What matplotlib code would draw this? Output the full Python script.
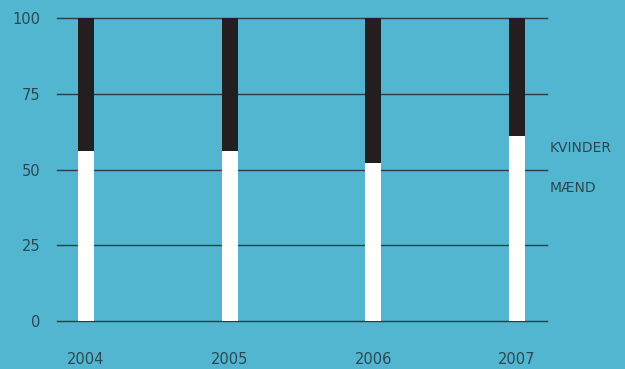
import matplotlib.pyplot as plt
import numpy as np

# Data
years = ['2004', '2005', '2006', '2007']
maend = [56, 56, 52, 61]
kvinder = [44, 44, 48, 39]
yticks = [0, 25, 50, 75, 100]

bg = '#53b6d0'
txt = '#2d4752'
grid = '#2a3c44'

fig = plt.figure(figsize=(6.25, 3.69), dpi=100, facecolor=bg)
ax = fig.add_axes([0.0912, 0.1301, 0.784, 0.8211], facecolor=bg)

x = np.arange(len(years))
ax.bar(x, maend, width=0.111, color='white', zorder=3)
ax.bar(x, kvinder, width=0.111, bottom=maend, color='#231f20', zorder=3)

ax.set_xlim(-0.201, 3.208)
ax.set_ylim(0, 100)
ax.set_yticks(yticks)
ax.set_xticks(x)
ax.set_xticklabels(years)
# horizontal gridlines, drawn unclipped so the 0 and 100 lines show fully
for yv in yticks:
    ax.axhline(yv, color=grid, linewidth=1.0, zorder=1, clip_on=False)
for s in ax.spines.values():
    s.set_visible(False)
ax.tick_params(axis='y', length=0, pad=12, labelsize=10.5, labelcolor=txt)
ax.tick_params(axis='x', length=0, pad=22, labelsize=10.5, labelcolor=txt)

ax.text(1.005, 0.57, 'KVINDER', transform=ax.transAxes, fontsize=10, color=txt, va='center', ha='left')
ax.text(1.005, 0.44, 'MÆND', transform=ax.transAxes, fontsize=10, color=txt, va='center', ha='left')

fig.savefig('out.png', dpi=100, facecolor=bg)
